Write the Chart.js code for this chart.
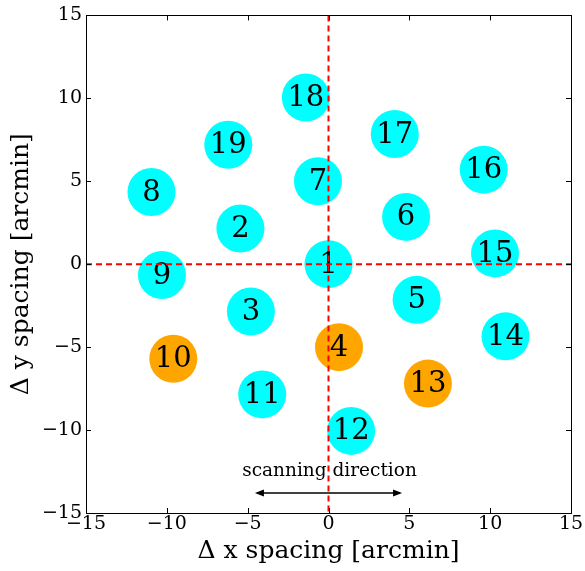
<!DOCTYPE html>
<html>
<head>
<meta charset="utf-8">
<title>Beam layout</title>
<script src="https://cdn.jsdelivr.net/npm/chart.js@4/dist/chart.umd.min.js"></script>
<style>
   html, body { margin: 0; padding: 0; background: #fff; }
   #wrap { width: 585px; height: 571px; }
</style>
</head>
<body>
<div id="wrap"><canvas id="chart" width="585" height="571"></canvas></div>
<script>
'use strict';

// Beam numbers and their offsets from the central beam, in arcmin
const beamIds = [1, 2, 3, 4, 5, 6, 7, 8, 9, 10, 11, 12, 13, 14, 15, 16, 17, 18, 19];
const beamX = [0, -5.45, -4.8, 0.65, 5.45, 4.8, -0.65, -10.95, -10.3, -9.6,
   -4.1, 1.4, 6.15, 10.95, 10.3, 9.6, 4.1, -1.4, -6.2];
const beamY = [0, 2.15, -2.85, -5.0, -2.15, 2.85, 5.0, 4.35, -0.65, -5.7,
   -7.85, -10.05, -7.2, -4.35, 0.65, 5.7, 7.85, 10.05, 7.2];
// Beams drawn in orange
const flagged = [4, 10, 13];

const tickValues = [-15, -10, -5, 0, 5, 10, 15];
const scanFrom = -4.55;
const scanTo = 4.55;
const scanY = -13.8;
const scanText = 'scanning direction';

const SERIF = "'DejaVu Serif', serif";
const CYAN = '#00ffff';
const ORANGE = '#ffa500';

const points = beamIds.map((id, i) => ({ x: beamX[i], y: beamY[i], id: id }));
const colors = beamIds.map(id => flagged.includes(id) ? ORANGE : CYAN);

function fmtTick(v) {
   return v < 0 ? '\u2212' + Math.abs(v) : String(v);
}

//Frame, inward ticks, beam numbers, zero lines, scan arrow and axis titles
const overlay = {
   id: 'overlay',
   afterDatasetsDraw(chart) {
      const c = chart.ctx;
      const a = chart.chartArea;
      const sx = chart.scales.x;
      const sy = chart.scales.y;
      c.save();

      //Numbers on the beams
      c.fillStyle = '#000';
      c.font = '29px ' + SERIF;
      c.textAlign = 'center';
      c.textBaseline = 'middle';
      points.forEach(p => {
         c.fillText(String(p.id), sx.getPixelForValue(p.x), sy.getPixelForValue(p.y) + 1);
      });

      //Scan label
      c.font = '18.5px ' + SERIF;
      c.textBaseline = 'alphabetic';
      c.fillText(scanText, sx.getPixelForValue(0) + 1, sy.getPixelForValue(-12.75));

      //Double headed arrow
      const ax0 = sx.getPixelForValue(scanFrom);
      const ax1 = sx.getPixelForValue(scanTo);
      const ay = sy.getPixelForValue(scanY);
      c.strokeStyle = '#000';
      c.lineWidth = 1.5;
      c.beginPath();
      c.moveTo(ax0 + 2, ay);
      c.lineTo(ax1 - 2, ay);
      c.stroke();
      c.fillStyle = '#000';
      [[ax0, 1], [ax1, -1]].forEach(([x, d]) => {
         c.beginPath();
         c.moveTo(x, ay);
         c.lineTo(x + d * 9, ay - 3.5);
         c.lineTo(x + d * 9, ay + 3.5);
         c.closePath();
         c.fill();
      });

      //Red dashed lines through the origin
      const x0 = sx.getPixelForValue(0);
      const y0 = sy.getPixelForValue(0);
      c.strokeStyle = '#ff0000';
      c.lineWidth = 2;
      c.setLineDash([6, 4]);
      c.beginPath();
      c.moveTo(x0, a.top);
      c.lineTo(x0, a.bottom);
      c.moveTo(a.left, y0);
      c.lineTo(a.right, y0);
      c.stroke();
      c.setLineDash([]);

      //Frame and inward ticks on all sides
      c.strokeStyle = '#000';
      c.lineWidth = 1;
      c.strokeRect(Math.round(a.left) + 0.5, Math.round(a.top) + 0.5,
         Math.round(a.right - a.left), Math.round(a.bottom - a.top));
      c.beginPath();
      tickValues.forEach(v => {
         const px = Math.round(sx.getPixelForValue(v)) + 0.5;
         const py = Math.round(sy.getPixelForValue(v)) + 0.5;
         c.moveTo(px, a.bottom);
         c.lineTo(px, a.bottom - 5);
         c.moveTo(px, a.top);
         c.lineTo(px, a.top + 5);
         c.moveTo(a.left, py);
         c.lineTo(a.left + 5, py);
         c.moveTo(a.right, py);
         c.lineTo(a.right - 5, py);
      });
      c.stroke();

      //Axis titles
      c.fillStyle = '#000';
      c.font = '25px ' + SERIF;
      c.textAlign = 'center';
      c.textBaseline = 'middle';
      c.fillText('\u0394 x spacing [arcmin]', (a.left + a.right) / 2, 551);
      c.translate(21, (a.top + a.bottom) / 2);
      c.rotate(-Math.PI / 2);
      c.fillText('\u0394 y spacing [arcmin]', 0, 0);
      c.restore();
   }
};

//Fixed axis sizes
function fitX(s) {
   s.height = 58;
}

function fitY(s) {
   s.width = 86;
}

const ctx = document.getElementById('chart');
const chart = new Chart(ctx, {
   type: 'scatter',
   data: {
      datasets: [{
         data: points,
         backgroundColor: colors,
         borderWidth: 0,
         pointRadius: 24,
         pointHoverRadius: 24
      }]
   },
   options: {
      responsive: false,
      animation: false,
      events: [],
      layout: { autoPadding: false, padding: { left: 0, top: 12, right: 14, bottom: 0 } },
      plugins: { legend: { display: false }, tooltip: { enabled: false } },
      scales: {
         x: {
            type: 'linear',
            min: -15,
            max: 15,
            grid: { display: false, drawTicks: false },
            border: { display: false },
            afterBuildTicks: s => { s.ticks = tickValues.map(v => ({ value: v })); },
            afterFit: fitX,
            ticks: {
               callback: fmtTick,
               color: '#000',
               padding: 0,
               maxRotation: 0,
               font: { family: SERIF, size: 19 }
            }
         },
         y: {
            type: 'linear',
            min: -15,
            max: 15,
            grid: { display: false, drawTicks: false },
            border: { display: false },
            afterBuildTicks: s => { s.ticks = tickValues.map(v => ({ value: v })); },
            afterFit: fitY,
            ticks: {
               callback: fmtTick,
               color: '#000',
               padding: 4,
               font: { family: SERIF, size: 19 }
            }
         }
      }
   },
   plugins: [overlay]
});
</script>
</body>
</html>
